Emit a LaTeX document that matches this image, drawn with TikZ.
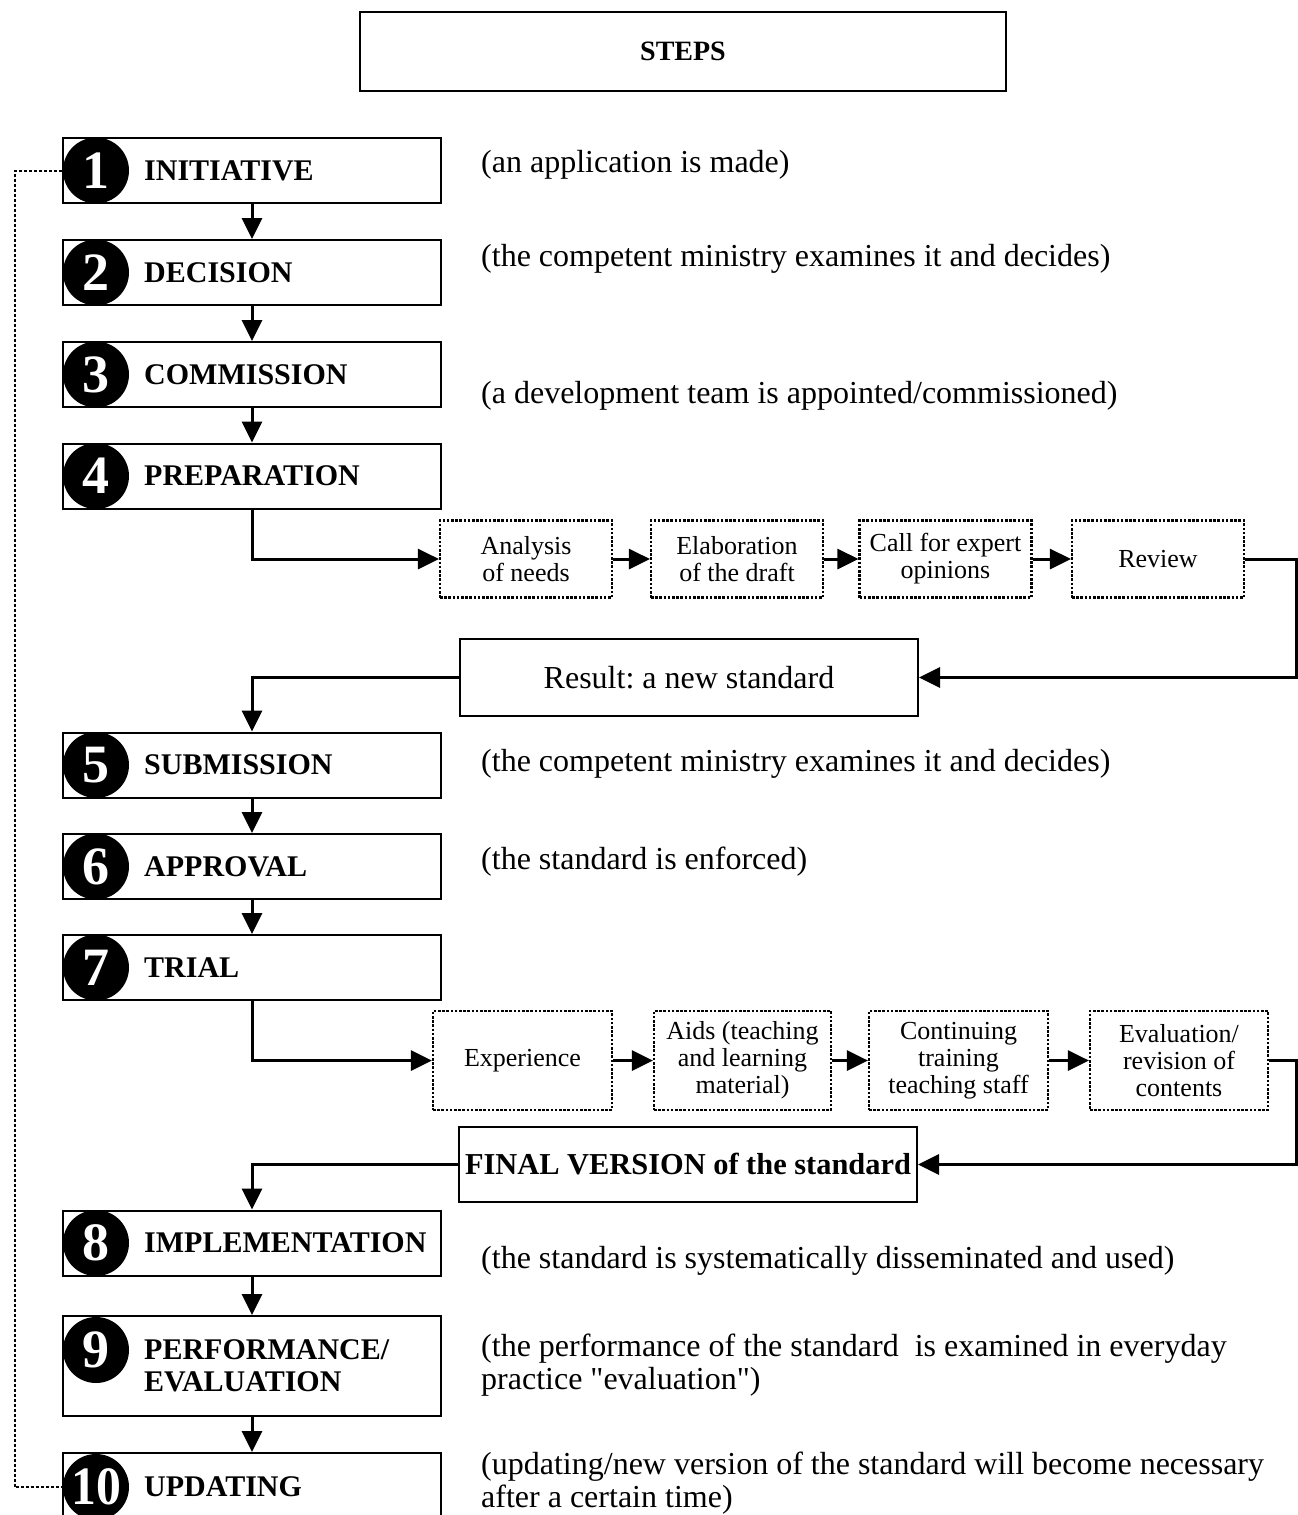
\documentclass[tikz,border=0pt]{standalone}
\usepackage{fontspec}
\setmainfont{Liberation Serif}
\newfontfamily\rawfont{Liberation Serif}[Ligatures=TeXOff]
\usetikzlibrary{arrows.meta}
\newcommand\straightquote{{\rawfont\symbol{34}}}
\begin{document}
\frenchspacing
\begin{tikzpicture}[x=1pt,y=-1pt,
  stepbox/.style={draw, line width=2pt, minimum width=378pt, minimum height=65pt, inner sep=0pt},
  numdot/.style={circle, fill=black, minimum size=66pt, inner sep=0pt, text=white,
    font=\bfseries\fontsize{54}{54}\selectfont},
  steptext/.style={anchor=west, inner sep=0pt, align=left,
    font=\bfseries\fontsize{30}{32.5}\selectfont},
  note/.style={anchor=west, inner sep=0pt, align=left, font=\fontsize{32}{33}\selectfont},
  subbox/.style={draw, line width=2.2pt, dash pattern=on 2.6pt off 1.6pt,
    minimum width=172pt, minimum height=77pt, inner sep=2pt, align=center,
    font=\fontsize{26}{27}\selectfont},
  resbox/.style={draw, line width=2pt, minimum width=458pt, minimum height=77pt, inner sep=0pt,
    font=\fontsize{32}{33}\selectfont},
  conn/.style={line width=3pt, -{Triangle[length=21pt,width=20pt]}},
  feedback/.style={line width=2pt, dash pattern=on 3pt off 2pt},
]
\useasboundingbox (0,0) rectangle (1298,1515);
\clip (0,0) rectangle (1298,1515);

% title
\node[draw, line width=2pt, minimum width=646pt, minimum height=79pt, inner sep=0pt,
  font=\bfseries\fontsize{28}{30}\selectfont] (title) at (683,51.5) {STEPS};

% rails for the return connectors
\coordinate (rail) at (1296,0);
\coordinate (fbx) at (15,0);

% main steps
\node[stepbox] (s1) at (252,170.5) {};
\node[stepbox] (s2) at (252,272.5) {};
\node[stepbox] (s3) at (252,374.5) {};
\node[stepbox] (s4) at (252,476) {};
\node[stepbox] (s5) at (252,765) {};
\node[stepbox] (s6) at (252,866.5) {};
\node[stepbox] (s7) at (252,967.5) {};
\node[stepbox] (s8) at (252,1243) {};
\node[stepbox, minimum height=100pt] (s9) at (252,1366) {};
\node[stepbox, minimum height=68pt] (s10) at (252,1487) {};

% feedback loop from updating back to the initiative
\draw[feedback] (s1.west) -| (fbx |- s10.west) -- (s10.west);

% numbered discs
\node[numdot] (n1) at (96,170.5) {1};
\node[numdot] (n2) at (96,272.5) {2};
\node[numdot] (n3) at (96,374.5) {3};
\node[numdot] (n4) at (96,476) {4};
\node[numdot] (n5) at (96,765) {5};
\node[numdot] (n6) at (96,866.5) {6};
\node[numdot] (n7) at (96,967.5) {7};
\node[numdot] (n8) at (96,1243) {8};
\node[numdot] (n9) at (96,1350) {9};
\node[numdot] (n10) at (96,1487) {\scalebox{0.92}[1]{10}};

% step names
\node[steptext] (t1) at (144,170.5) {INITIATIVE};
\node[steptext] (t2) at (144,272.5) {DECISION};
\node[steptext] (t3) at (144,374.5) {COMMISSION};
\node[steptext] (t4) at (144,476) {PREPARATION};
\node[steptext] (t5) at (144,765) {SUBMISSION};
\node[steptext] (t6) at (144,866.5) {APPROVAL};
\node[steptext] (t7) at (144,967.5) {TRIAL};
\node[steptext] (t8) at (144,1243) {IMPLEMENTATION};
\node[steptext] (t9) at (144,1366) {PERFORMANCE/\\EVALUATION};
\node[steptext] (t10) at (144,1487) {UPDATING};

% explanations
\node[note] (d1) at (481,165) {(an application is made)};
\node[note] (d2) at (481,259) {(the competent ministry examines it and decides)};
\node[note] (d3) at (481,396) {(a development team is appointed/commissioned)};
\node[note] (d5) at (481,764) {(the competent ministry examines it and decides)};
\node[note] (d6) at (481,862) {(the standard is enforced)};
\node[note] (d8) at (481,1261) {(the standard is systematically disseminated and used)};
\node[note] (d9) at (481,1365.5) {(the performance of the standard\ \ is examined in everyday\\practice \straightquote evaluation\straightquote)};
\node[note] (d10) at (481,1483) {(updating/new version of the standard will become necessary\\after a certain time)};

% preparation sub-steps
\node[subbox] (a1) at (526,559) {Analysis\\of needs};
\node[subbox] (a2) at (737,559) {Elaboration\\of the draft};
\node[subbox] (a3) at (945.5,559) {Call for expert\\opinions};
\node[subbox] (a4) at (1158,559) {Review};
\node[resbox] (res) at (689,677.5) {Result: a new standard};

% trial sub-steps
\node[subbox, minimum width=179pt, minimum height=99pt] (b1) at (522.5,1060.5) {Experience};
\node[subbox, minimum width=177pt, minimum height=99pt] (b2) at (742.5,1060.5) {Aids (teaching\\and learning\\material)};
\node[subbox, minimum width=179pt, minimum height=99pt] (b3) at (958.5,1060.5) {Continuing\\training\\teaching staff};
\node[subbox, minimum width=178pt, minimum height=99pt] (b4) at (1179,1060.5) {Evaluation/\\revision of\\contents};
\node[resbox, minimum height=75pt, font=\bfseries\fontsize{30.4}{32}\selectfont] (fin) at (688,1164.5) {FINAL VERSION of the standard};

% main flow
\draw[conn] (s1) -- (s2);
\draw[conn] (s2) -- (s3);
\draw[conn] (s3) -- (s4);
\draw[conn] (s4.south) |- (a1.west);
\draw[conn] (a1) -- (a2);
\draw[conn] (a2) -- (a3);
\draw[conn] (a3) -- (a4);
\draw[conn] (a4.east) -| (rail |- res.east) -- (res.east);
\draw[conn] (res.west) -| (s5.north);
\draw[conn] (s5) -- (s6);
\draw[conn] (s6) -- (s7);
\draw[conn] (s7.south) |- (b1.west);
\draw[conn] (b1) -- (b2);
\draw[conn] (b2) -- (b3);
\draw[conn] (b3) -- (b4);
\draw[conn] (b4.east) -| (rail |- fin.east) -- (fin.east);
\draw[conn] (fin.west) -| (s8.north);
\draw[conn] (s8) -- (s9);
\draw[conn] (s9) -- (s10);
\end{tikzpicture}
\end{document}
